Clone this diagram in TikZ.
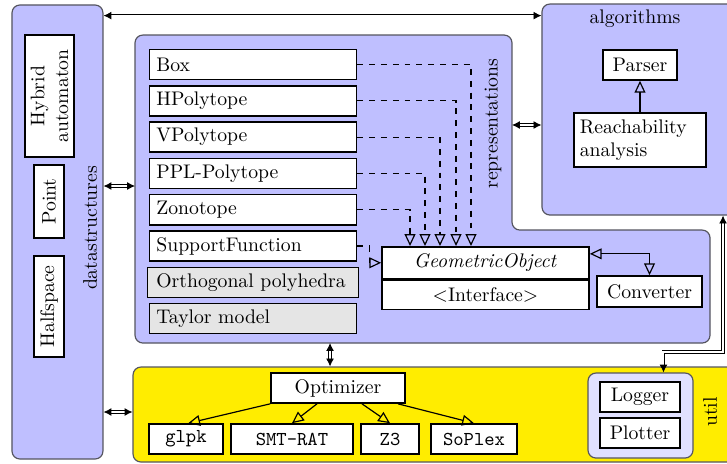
\documentclass[tikz,border=0pt]{standalone}
\usetikzlibrary{arrows.meta, positioning, calc}
\definecolor{clav}{RGB}{191,191,255}
\definecolor{clavlight}{RGB}{224,224,255}
\definecolor{cyellow}{RGB}{255,237,0}
\definecolor{cframe}{RGB}{85,85,95}
\definecolor{cgrey}{RGB}{229,229,229}
\tikzset{
  region/.style={draw=cframe, fill=#1, rounded corners=4pt, line width=0.6pt},
  region/.default=clav,
  box/.style={draw, fill=white, thick, minimum height=0.536cm, inner sep=3pt},
  repbox/.style={box, text width=3.45cm, align=left, inner xsep=3.5pt},
  regiontitle/.style={inner sep=0pt},
  realize/.style={semithick, dashed, -{Triangle[open, length=6pt, width=5.5pt]}},
  inherit/.style={semithick, -{Triangle[open, length=6pt, width=5.5pt]}},
  dbl/.style={double, double distance=1pt, line width=0.45pt, {Latex[length=4pt,width=4pt]}-{Latex[length=4pt,width=4pt]}},
}

\begin{document}
\begin{tikzpicture}
  \useasboundingbox (0,0) rectangle (12.977,-8.282);
  % regions
  \node[region, minimum width=1.624cm, minimum height=8.104cm] (ds) at (1.026,-4.141) {};
  \node[region, minimum width=3.891cm, minimum height=3.766cm] (alg) at (11.620,-1.955) {};
  \node[region=cyellow, minimum width=11.19cm, minimum height=1.696cm] (util) at (7.970,-7.399) {};
  \draw[region] (2.410,-0.625) coordinate (rep-nw) -- (9.139,-0.625) coordinate (rep-ne)
    -- (9.139,-4.106) -- (12.674,-4.106) -- (12.674,-6.123) -- (2.410,-6.123) coordinate (rep-sw) -- cycle;
  \node[region=clavlight, minimum width=1.874cm, minimum height=1.517cm] (lgroup) at (11.433,-7.417) {};

  \node[regiontitle, rotate=90] (dstitle) at (1.607,-4.07) {datastructures};
  \node[regiontitle, rotate=90] (reptitle) at (8.800,-2.204) {representations};
  \node[regiontitle] (algtitle) at (11.335,-0.339) {algorithms};
  \node[regiontitle, rotate=90] (utiltitle) at (12.674,-7.354) {util};

  % links between the parts
  \draw[dbl] ([yshift=-0.2cm]ds.north east) -- ([yshift=-0.2cm]ds.north east -| alg.west);
  \draw[dbl] (ds.east |- 0,-3.320) -- (rep-nw |- 0,-3.320);
  \draw[dbl] (ds.east |- 0,-7.354) -- (util.west |- 0,-7.354);
  \draw[dbl] (rep-ne |- 0,-2.231) -- (alg.west |- 0,-2.231);
  \draw[dbl] (rep-sw -| 5.891,0) -- (util.north -| 5.891,0);
  \draw[dbl] ([xshift=0.41cm]lgroup.north) |- (12.906,-6.283) -- (alg.south -| 12.906,0);

  % datastructures
  \node[box, rotate=90, minimum width=2.178cm, minimum height=0.875cm, align=center, inner ysep=2pt] (hybrid) at (0.884,-1.714) {Hybrid\\automaton};
  \node[box, rotate=90, minimum width=1.30cm] (point) at (0.875,-3.597) {Point};
  \node[box, rotate=90, minimum width=1.80cm] (halfspace) at (0.875,-5.471) {Halfspace};

  % representations
  \foreach \name/\txt [count=\i from 0] in {box/Box, hpoly/HPolytope, vpoly/VPolytope, ppl/PPL-Polytope, zono/Zonotope, supp/SupportFunction}
    \node[repbox] (\name) at (4.516,-1.151-0.648*\i) {\txt};
  \node[repbox, fill=cgrey, inner xsep=4.5pt] (ortho) at (4.516,-5.039) {Orthogonal polyhedra};
  \node[repbox, fill=cgrey] (taylor) at (4.516,-5.687) {Taylor model};

  \node[box, minimum width=3.695cm, minimum height=0.571cm, anchor=north] (geo) at (8.666,-4.391) {\textit{GeometricObject}};
  \node[box, minimum width=3.695cm, minimum height=0.518cm, anchor=north] (geoif) at (geo.south) {$<$Interface$>$};
  \node[box, minimum width=1.874cm, minimum height=0.553cm] (conv) at (11.594,-5.203) {Converter};

  \foreach \name/\x in {box/8.407, hpoly/8.140, vpoly/7.854, ppl/7.586, zono/7.319}
    \draw[realize] (\name.east) -| (geo.north -| \x,0);
  \draw[realize] (supp.east) -| ($(supp.east)!0.5!(geo.west)$) |- (geo.west);
  \draw[inherit, {Triangle[open, length=6pt, width=5.5pt]}-{Triangle[open, length=6pt, width=5.5pt]}] ([yshift=0.16cm]geo.east) -| (conv.north);

  % algorithms
  \node[box, minimum width=1.321cm] (parser) at (11.424,-1.160) {Parser};
  \node[box, text width=2.15cm, align=left, minimum height=0.964cm] (reach) at (11.424,-2.499) {Reachability\\analysis};
  \draw[inherit] (reach) -- (parser);

  % util
  \node[box, minimum width=2.392cm] (opt) at (6.033,-6.926) {Optimizer};
  \node[box, font=\ttfamily, minimum width=1.321cm] (glpk) at (3.320,-7.836) {glpk};
  \node[box, font=\ttfamily, minimum width=2.178cm] (smtrat) at (5.212,-7.836) {SMT-RAT};
  \node[box, font=\ttfamily, minimum width=1.035cm] (zthree) at (6.962,-7.836) {Z3};
  \node[box, font=\ttfamily, minimum width=1.535cm] (soplex) at (8.461,-7.836) {SoPlex};
  \draw[inherit] (opt.south west) -- ([xshift=0.04cm]glpk.north);
  \draw[inherit] ([xshift=-0.375cm]opt.south) -- (smtrat.north);
  \draw[inherit] ([xshift=0.428cm]opt.south) -- (zthree.north);
  \draw[inherit] ([xshift=1.071cm]opt.south) -- (soplex.north);

  \node[box, minimum width=1.428cm] (logger) at (11.424,-7.086) {Logger};
  \node[box, minimum width=1.428cm] (plotter) at (11.424,-7.729) {Plotter};
\end{tikzpicture}
\end{document}
